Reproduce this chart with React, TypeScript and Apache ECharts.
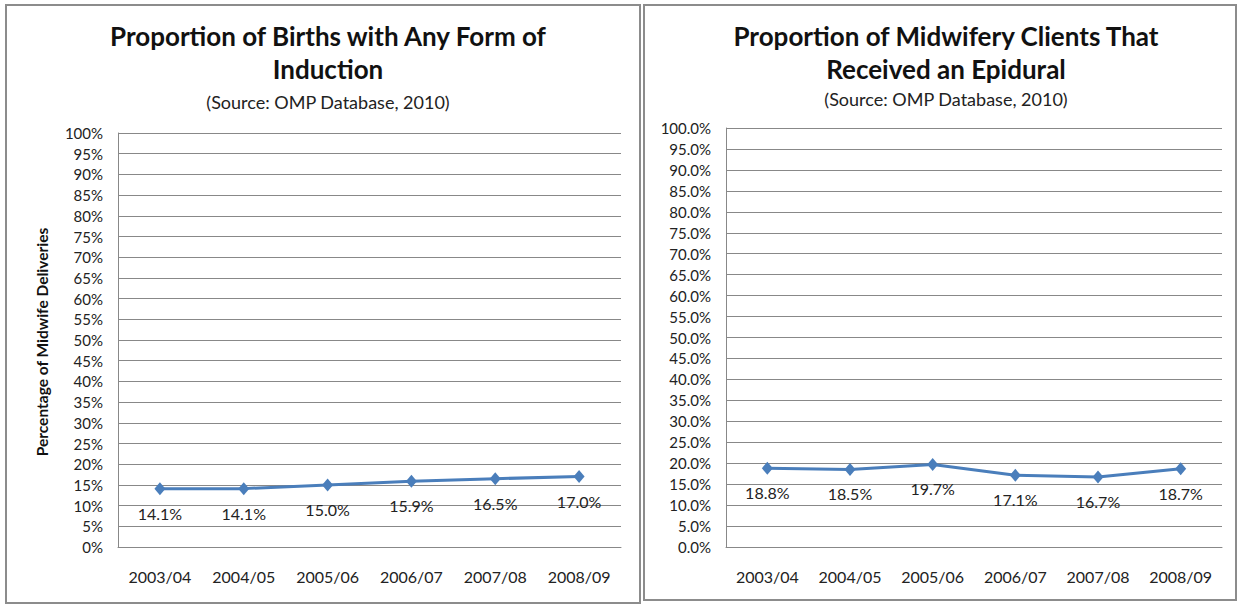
import React, { useEffect, useRef } from "react";
import * as echarts from "echarts";

const years = ["2003/04", "2004/05", "2005/06", "2006/07", "2007/08", "2008/09"];
const inductionPct = [14.1, 14.1, 15.0, 15.9, 16.5, 17.0];
const epiduralPct = [18.8, 18.5, 19.7, 17.1, 16.7, 18.7];

const leftTitle = "Proportion of Births with Any Form of\nInduction";
const rightTitle = "Proportion of Midwifery Clients That\nReceived an Epidural";
const sourceNote = "(Source: OMP Database, 2010)";
const leftAxisName = "Percentage of Midwife Deliveries";

const FONT = "Lato, 'Open Sans', sans-serif";
const LINE_BLUE = "#4a7ebb";

function yAxis(gridIndex: number, decimals: number) {
  return {
    type: "value",
    gridIndex,
    min: 0,
    max: 100,
    interval: 5,
    axisLine: { show: true, lineStyle: { color: "#888", width: 1 } },
    axisTick: { show: false },
    splitLine: { lineStyle: { color: "#888", width: 1 } },
    axisLabel: {
      color: "#222",
      fontFamily: FONT,
      fontSize: 15,
      margin: 15,
      formatter: (v: number) => `${v.toFixed(decimals)}%`,
    },
  };
}

function xAxis(gridIndex: number) {
  return {
    type: "category",
    gridIndex,
    data: years,
    boundaryGap: true,
    axisLine: { show: true, lineStyle: { color: "#888", width: 1 } },
    axisTick: { show: false },
    axisLabel: { color: "#222", fontFamily: FONT, fontSize: 16, margin: 21 },
  };
}

function lineSeries(idx: number, data: number[]) {
  return {
    type: "line",
    xAxisIndex: idx,
    yAxisIndex: idx,
    data,
    symbol: "diamond",
    symbolSize: [11, 13],
    lineStyle: { color: LINE_BLUE, width: 3 },
    itemStyle: { color: LINE_BLUE },
    label: {
      show: true,
      position: "bottom",
      distance: 10,
      color: "#222",
      fontFamily: FONT,
      fontSize: 16,
      formatter: (p: any) => `${Number(p.value).toFixed(1)}%`,
    },
  };
}

export default function App() {
  const ref = useRef<HTMLDivElement>(null);

  useEffect(() => {
    document.body.style.margin = "0";
    const chart = echarts.init(ref.current!, undefined, { renderer: "svg" });
    const titleStyle = { fontFamily: FONT, fontSize: 26, fontWeight: "bold", color: "#111", lineHeight: 33 };
    const noteStyle = { fontFamily: FONT, fontSize: 18, fontWeight: "normal", color: "#222" };
    chart.setOption({
      animation: false,
      backgroundColor: "#fff",
      title: [
        { text: leftTitle, left: 323, top: 14, textAlign: "center", textStyle: titleStyle },
        { text: sourceNote, left: 323, top: 88, textAlign: "center", textStyle: noteStyle },
        { text: rightTitle, left: 941, top: 14, textAlign: "center", textStyle: titleStyle },
        { text: sourceNote, left: 941, top: 85, textAlign: "center", textStyle: noteStyle },
      ],
      grid: [
        { left: 118, right: 1239 - 621, top: 133, bottom: 605 - 547 },
        { left: 726, right: 1239 - 1222, top: 128, bottom: 605 - 547 },
      ],
      xAxis: [xAxis(0), xAxis(1)],
      yAxis: [yAxis(0, 0), yAxis(1, 1)],
      series: [lineSeries(0, inductionPct), lineSeries(1, epiduralPct)],
      graphic: [
        {
          type: "rect",
          shape: { x: 6, y: 5, width: 634, height: 598 },
          style: { fill: "none", stroke: "#8c8c8c", lineWidth: 2 },
          silent: true,
        },
        {
          type: "rect",
          shape: { x: 644, y: 5, width: 592, height: 595 },
          style: { fill: "none", stroke: "#8c8c8c", lineWidth: 2 },
          silent: true,
        },
        {
          type: "text",
          x: 42,
          y: 342,
          rotation: Math.PI / 2,
          style: {
            text: leftAxisName,
            fontFamily: FONT,
            fontSize: 15.5,
            fontWeight: "bold",
            fill: "#111",
            textAlign: "center",
            textVerticalAlign: "middle",
          },
        },
      ],
    });
    return () => chart.dispose();
  }, []);

  return <div ref={ref} style={{ width: 1239, height: 605 }} />;
}
